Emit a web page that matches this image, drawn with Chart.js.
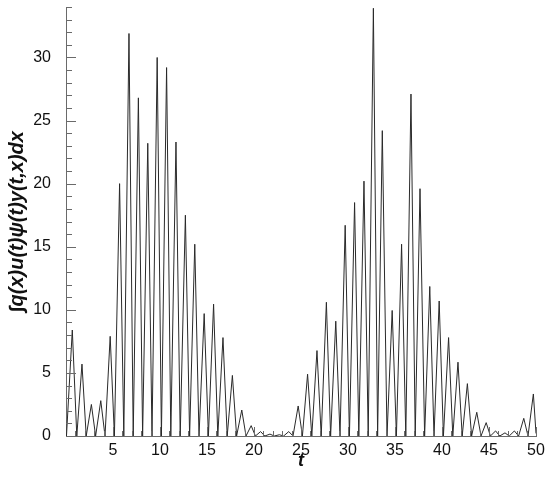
<!DOCTYPE html>
<html>
<head>
<meta charset="utf-8">
<script src="https://cdn.jsdelivr.net/npm/chart.js@4.4.1/dist/chart.umd.min.js"></script>
<style>
  html, body { margin: 0; padding: 0; background: #ffffff; }
  #wrap { width: 550px; height: 480px; position: relative; }
</style>
</head>
<body>
<div id="wrap"><canvas id="c"></canvas></div>
<script>
// Peak times and peak values of each pulse
const peakTimes = [0.67, 1.7, 2.7, 3.7, 4.7, 5.7, 6.7, 7.7, 8.7, 9.7,
  10.7, 11.7, 12.7, 13.7, 14.7, 15.7, 16.7, 17.7, 18.7, 19.7,
  20.7, 21.7, 22.7, 23.7, 24.7, 25.7, 26.7, 27.7, 28.7, 29.7,
  30.7, 31.7, 32.7, 33.65, 34.7, 35.7, 36.7, 37.66, 38.7, 39.7,
  40.7, 41.7, 42.7, 43.7, 44.7, 45.7, 46.7, 47.7, 48.7, 49.72];
const peakValues = [8.4, 5.7, 2.5, 2.8, 7.9, 20.0, 31.9, 26.8, 23.2, 30.0,
  29.2, 23.3, 17.5, 15.2, 9.7, 10.45, 7.8, 4.8, 2.06, 0.82,
  0.35, 0.15, 0.1, 0.35, 2.38, 4.9, 6.77, 10.6, 9.1, 16.7,
  18.5, 20.2, 33.9, 24.2, 9.95, 15.2, 27.1, 19.6, 11.85, 10.7,
  7.8, 5.85, 4.15, 1.88, 1.06, 0.4, 0.25, 0.4, 1.4, 3.33];
// Times of the zero-valued troughs before each pulse
const troughTimes = [0.05, 1.15, 2.15, 3.15, 4.15, 5.15, 6.15, 7.15, 8.15, 9.15,
  10.15, 11.15, 12.15, 13.15, 14.15, 15.15, 16.15, 17.15, 18.15, 19.15,
  20.15, 21.15, 22.15, 23.15, 24.15, 25.15, 26.15, 27.15, 28.15, 29.15,
  30.15, 31.15, 32.15, 33.15, 34.15, 35.15, 36.15, 37.15, 38.15, 39.15,
  40.15, 41.15, 42.15, 43.15, 44.15, 45.15, 46.15, 47.15, 48.15, 49.15];
const endPoint = { x: 50, y: 0.2 };

const xTickLabels = [5, 10, 15, 20, 25, 30, 35, 40, 45, 50];
const yTickLabels = [0, 5, 10, 15, 20, 25, 30];

const points = [];
for (let i = 0; i < peakTimes.length; i++) {
  points.push({ x: troughTimes[i], y: 0 });
  points.push({ x: peakTimes[i], y: peakValues[i] });
}
points.push(endPoint);

const axisColor = '#6a6a6a';

const inwardTicks = {
  id: 'inwardTicks',
  afterDatasetsDraw(chart) {
    const { ctx, chartArea, scales } = chart;
    const xs = scales.x, ys = scales.y;
    ctx.save();
    ctx.strokeStyle = axisColor;
    ctx.lineWidth = 1;
    ctx.beginPath();
    for (let v = 0; v <= 34; v++) {
      const py = Math.round(ys.getPixelForValue(v)) + 0.5;
      const len = (v % 5 === 0) ? 10 : 6;
      ctx.moveTo(chartArea.left, py);
      ctx.lineTo(chartArea.left + len, py);
    }
    for (let v = 1; v <= 50; v++) {
      const px = Math.round(xs.getPixelForValue(v)) + 0.5;
      const len = (v % 5 === 0) ? 9 : 5;
      ctx.moveTo(px, chartArea.bottom);
      ctx.lineTo(px, chartArea.bottom - len);
    }
    ctx.stroke();
    ctx.restore();
  }
};

new Chart(document.getElementById('c'), {
  type: 'line',
  data: {
    datasets: [{
      data: points,
      borderColor: '#2a2a2a',
      borderWidth: 1,
      pointRadius: 0,
      fill: false,
      tension: 0
    }]
  },
  options: {
    responsive: true,
    maintainAspectRatio: false,
    animation: false,
    layout: { padding: { top: 7, right: 14, left: 0, bottom: 0 } },
    plugins: { legend: { display: false }, tooltip: { enabled: false } },
    scales: {
      x: {
        type: 'linear',
        min: 0,
        max: 50,
        afterFit(s) { s.height = 44; s.paddingLeft = 0; s.paddingRight = 0; },
        afterBuildTicks(s) { s.ticks = xTickLabels.map(v => ({ value: v })); },
        grid: { display: false },
        border: { display: true, color: axisColor, width: 1 },
        ticks: {
          padding: -3,
          color: '#111',
          font: { family: 'Liberation Sans', size: 16 },
          maxRotation: 0,
          autoSkip: false
        },
        title: {
          display: true,
          text: 't',
          color: '#111',
          font: { family: 'Liberation Sans', size: 18, style: 'italic', weight: 'bold' },
          padding: { top: 0, bottom: 8 }
        }
      },
      y: {
        type: 'linear',
        min: 0,
        max: 34,
        afterFit(s) { s.width = 66; s.paddingTop = 0; s.paddingBottom = 0; },
        afterBuildTicks(s) { s.ticks = yTickLabels.map(v => ({ value: v })); },
        grid: { display: false },
        border: { display: true, color: axisColor, width: 1 },
        ticks: {
          padding: 7,
          color: '#111',
          font: { family: 'Liberation Sans', size: 16 },
          autoSkip: false
        },
        title: {
          display: true,
          text: '∫q(x)u(t)ψ(t)y(t,x)dx',
          color: '#111',
          font: { family: 'Liberation Sans', size: 20, style: 'italic', weight: 'bold' },
          padding: { top: 5, bottom: 0 }
        }
      }
    }
  },
  plugins: [inwardTicks]
});
</script>
</body>
</html>
